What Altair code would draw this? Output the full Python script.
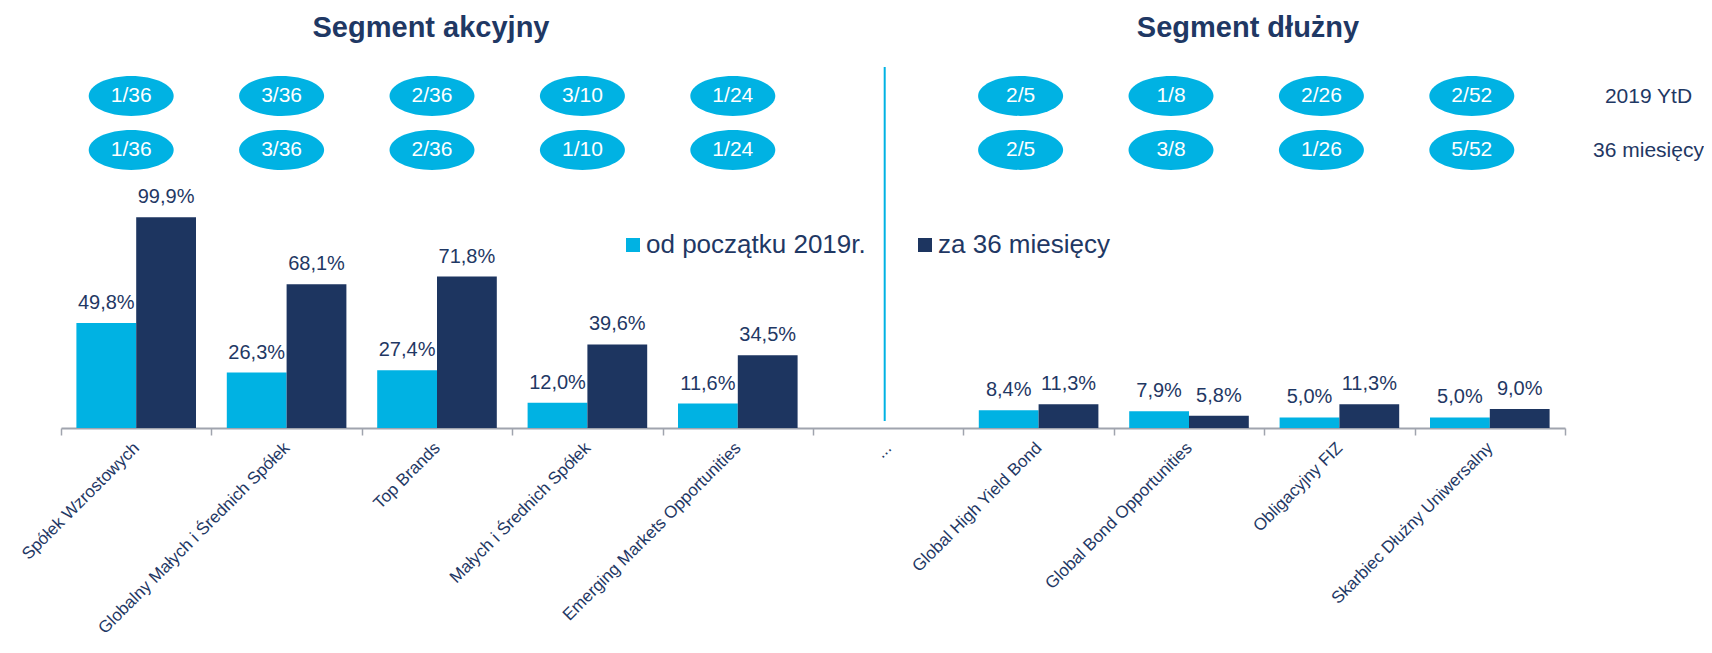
import altair as alt
import pandas as pd

# ---------------- data ----------------
categories = ["Spółek Wzrostowych", "Globalny Małych i Średnich Spółek", "Top Brands",
              "Małych i Średnich Spółek", "Emerging Markets Opportunities", "...",
              "Global High Yield Bond", "Global Bond Opportunities", "Obligacyjny FIZ",
              "Skarbiec Dłużny Uniwersalny"]
segments = ["akcje"] * 5 + [None] + ["dług"] * 4
series_names = ["od początku 2019r.", "za 36 miesięcy"]
ytd_values = [49.8, 26.3, 27.4, 12.0, 11.6, None, 8.4, 7.9, 5.0, 5.0]
m36_values = [99.9, 68.1, 71.8, 39.6, 34.5, None, 11.3, 5.8, 11.3, 9.0]
rank_rows = ["2019 YtD", "36 miesięcy"]
rank_ytd = ["1/36", "3/36", "2/36", "3/10", "1/24", None, "2/5", "1/8", "2/26", "2/52"]
rank_36m = ["1/36", "3/36", "2/36", "1/10", "1/24", None, "2/5", "3/8", "1/26", "5/52"]
segment_titles = ["Segment akcyjny", "Segment dłużny"]

# ---------------- styles ----------------
FONT = "Liberation Sans, Arial, sans-serif"
CYAN = "#00B2E3"
NAVY = "#1D3560"
TEXT = "#1F3864"
GRAY = "#A0A4AE"

rows = []
for c, a, b in zip(categories, ytd_values, m36_values):
    for s, v in zip(series_names, [a, b]):
        if v is not None:
            rows.append({"category": c, "series": s, "value": v,
                         "label": f"{v:.1f}".replace(".", ",") + "%"})
bars_df = pd.DataFrame(rows)

rrows = []
for c, seg, r1, r2 in zip(categories, segments, rank_ytd, rank_36m):
    for rn, r in zip(rank_rows, [r1, r2]):
        if r is not None:
            rrows.append({"category": c, "segment": seg, "row": rn, "rank": r})
rank_df = pd.DataFrame(rrows)

xscale = alt.Scale(domain=categories, paddingInner=0, paddingOuter=0)

x_axis = alt.Axis(title=None, labelAngle=-45, labelAlign="right", labelBaseline="middle",
                  labelFontSize=17, labelFont=FONT, labelColor=TEXT, labelLimit=400,
                  labelOverlap=False, labelPadding=10, tickBand="extent", tickSize=7,
                  tickColor=GRAY, tickWidth=1.5, domainColor=GRAY, domainWidth=2, grid=False)
X = alt.X("category:N", scale=xscale, axis=x_axis)

xoff = alt.XOffset("series:N", sort=series_names,
                   scale=alt.Scale(paddingOuter=0.2575, paddingInner=0))
Yval = alt.Y("value:Q", scale=alt.Scale(domain=[0, 110]), axis=None)

base = alt.Chart(bars_df)

bars = base.mark_bar().encode(
    x=X, xOffset=xoff, y=Yval,
    color=alt.Color("series:N", scale=alt.Scale(domain=series_names, range=[CYAN, NAVY]),
                    legend=alt.Legend(orient="none", legendX=559, legendY=36,
                                      direction="horizontal", title=None,
                                      symbolType="square", symbolSize=196,
                                      symbolStrokeWidth=0, symbolOpacity=1,
                                      labelFontSize=26, labelFont=FONT, labelColor=TEXT,
                                      labelOffset=0, labelLimit=400, columnPadding=46)),
)

bar_labels = base.mark_text(fontSize=20, font=FONT, color=TEXT, baseline="alphabetic", dy=-14).encode(
    x=X, xOffset=xoff, y=Yval, text="label:N",
)

sep_df = pd.DataFrame({"category": ["..."]})
separator = alt.Chart(sep_df).mark_rule(color=CYAN, strokeWidth=2, xOffset=-3.5).encode(
    x=X, y=alt.value(-129), y2=alt.value(225),
)

title1 = alt.Chart(pd.DataFrame({"t": [segment_titles[0]]})).mark_text(
    fontSize=29, fontWeight="bold", font=FONT, color=TEXT, baseline="alphabetic", align="center"
).encode(x=alt.value(370), y=alt.value(-159), text="t:N")
title2 = alt.Chart(pd.DataFrame({"t": [segment_titles[1]]})).mark_text(
    fontSize=29, fontWeight="bold", font=FONT, color=TEXT, baseline="alphabetic", align="center"
).encode(x=alt.value(1187), y=alt.value(-159), text="t:N")

rank_axis = alt.Axis(orient="right", title=None, ticks=False, tickSize=0, domain=False,
                     grid=False, labelAlign="center", labelBaseline="middle",
                     labelPadding=83, labelFontSize=21, labelFont=FONT, labelColor=TEXT)
Yrank = alt.Y("row:N", scale=alt.Scale(type="point", domain=rank_rows, range=[-100, -46], padding=0),
              axis=rank_axis)

ELLIPSE = "M -1 0 A 1 0.47 0 1 1 1 0 A 1 0.47 0 1 1 -1 0 Z"


def rank_layers(seg, shift):
    src = alt.Chart(rank_df).transform_filter(alt.datum.segment == seg)
    ell = src.mark_point(shape=ELLIPSE, size=7225, filled=True, fill=CYAN,
                         opacity=1, strokeWidth=0, xOffset=shift).encode(x=X, y=Yrank)
    txt = src.mark_text(fontSize=21, font=FONT, color="white", baseline="middle",
                        xOffset=shift).encode(x=X, y=Yrank, text="rank:N")
    return [ell, txt]


main = alt.layer(bars, bar_labels, separator, title1, title2)
ranks = alt.layer(*rank_layers("akcje", -5), *rank_layers("dług", -18))

chart = alt.layer(main, ranks).resolve_scale(y="independent").resolve_axis(y="independent").properties(
    width=1504, height=232,
    padding={"left": 53, "top": 188, "right": 139, "bottom": 214},
    autosize=alt.AutoSizeParams(type="none"),
    background="white",
).configure_view(stroke=None)

chart.save("out.html", embed_options={"renderer": "svg", "actions": False})
